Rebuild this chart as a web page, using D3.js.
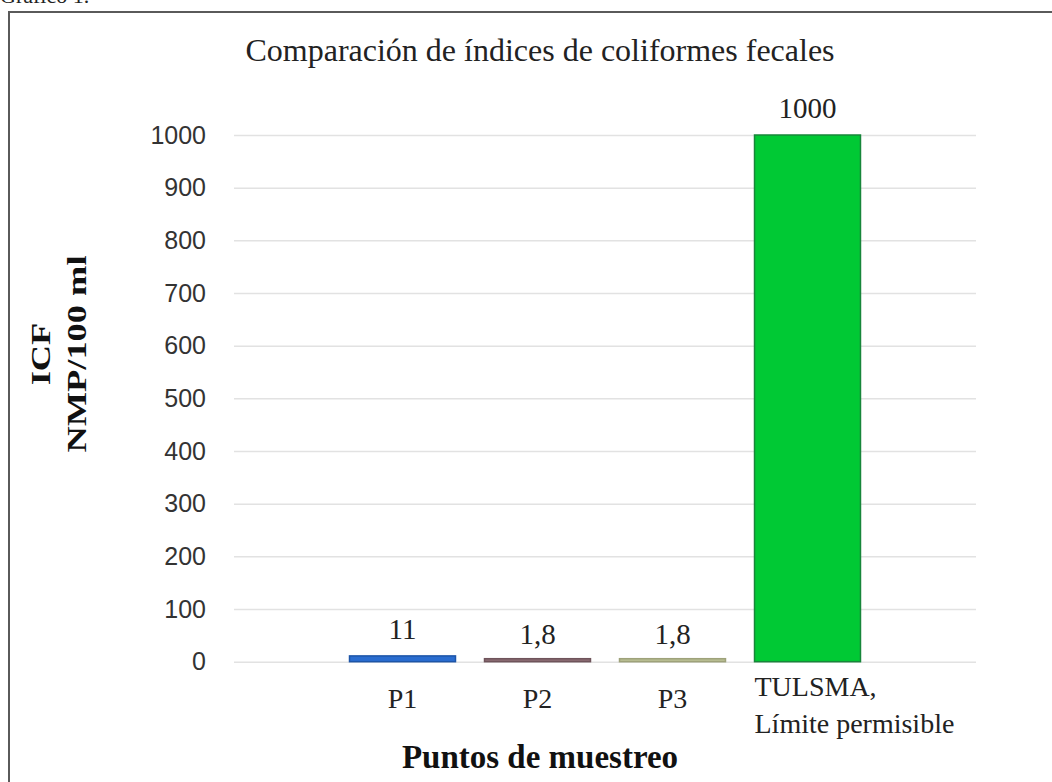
<!DOCTYPE html>
<html>
<head>
<meta charset="utf-8">
<script src="https://cdn.jsdelivr.net/npm/d3@7"></script>
<style>
  body { margin: 0; background: #fff; }
  .tick text { font-family: "Liberation Sans", Arial, sans-serif; }
</style>
</head>
<body>
<svg width="1052" height="782"></svg>
<script>
  var categories = ["P1", "P2", "P3", "TULSMA, Límite permisible"];
  var values = [11, 1.8, 1.8, 1000];
  var valueLabels = ["11", "1,8", "1,8", "1000"];
  var barColors = ["#2a6dd0", "#8a6a72", "#b8bd92", "#00c934"];
  var barStrokes = ["#1d55a8", "#6f545b", "#9ea27a", "#17863a"];
  var yTicks = [0, 100, 200, 300, 400, 500, 600, 700, 800, 900, 1000];

  var svg = d3.select("svg");
  var width = +svg.attr("width");
  var height = +svg.attr("height");

  var margin = { top: 135, right: 76, left: 234, bottom: 120 };
  var innerWidth = width - margin.left - margin.right;
  var innerHeight = height - margin.top - margin.bottom - 0.3;

  // frame
  svg.append("path")
    .attr("d", "M9,790 V12 H1060")
    .attr("fill", "none")
    .attr("stroke", "#5a5a5a")
    .attr("stroke-width", 2);

  // cut-off caption above frame
  svg.append("text")
    .text("Gráfico 1.")
    .attr("x", 0)
    .attr("y", 3)
    .attr("font-family", "Liberation Serif, serif")
    .attr("font-size", 22)
    .attr("fill", "#222");

  var g = svg.append("g")
    .attr("transform", "translate(" + margin.left + "," + margin.top + ")");

  // scales
  var yScale = d3.scaleLinear()
    .domain([0, 1000])
    .range([innerHeight, 0]);

  var xScale = d3.scaleBand()
    .domain(categories)
    .range([101, 641])
    .paddingInner(0.215)
    .paddingOuter(0.1075);

  // y axis with gridlines
  var yAxis = d3.axisLeft(yScale)
    .tickValues(yTicks)
    .tickFormat(d3.format("d"))
    .tickSize(-innerWidth)
    .tickPadding(28);

  var yAxisGroup = g.append("g").call(yAxis);
  yAxisGroup.select(".domain").remove();
  yAxisGroup.selectAll(".tick line").attr("stroke", "#e2e2e2").attr("stroke-width", 1.5);
  yAxisGroup.selectAll(".tick text")
    .attr("font-size", 25)
    .attr("fill", "#333");

  // bars
  g.selectAll("rect.bar").data(values).enter()
    .append("rect")
    .attr("class", "bar")
    .attr("x", function (d, i) { return xScale(categories[i]); })
    .attr("y", function (d) { return Math.min(yScale(d), innerHeight - 3); })
    .attr("width", xScale.bandwidth())
    .attr("height", function (d) { return Math.max(innerHeight - yScale(d), 3); })
    .attr("fill", function (d, i) { return barColors[i]; })
    .attr("stroke", function (d, i) { return barStrokes[i]; })
    .attr("stroke-width", 1.5);

  // value labels
  g.selectAll("text.val").data(values).enter()
    .append("text")
    .attr("class", "val")
    .text(function (d, i) { return valueLabels[i]; })
    .attr("x", function (d, i) { return xScale(categories[i]) + xScale.bandwidth() / 2; })
    .attr("y", function (d) { return yScale(d) - 17; })
    .attr("text-anchor", "middle")
    .attr("font-family", "Liberation Serif, serif")
    .attr("font-size", 29)
    .attr("fill", "#222");

  // category labels
  var catG = g.append("g").attr("transform", "translate(0," + innerHeight + ")");
  categories.forEach(function (c, i) {
    var parts = c.split(", ");
    if (parts.length > 1) {
      var t = catG.append("text")
        .attr("x", xScale(c))
        .attr("font-family", "Liberation Serif, serif")
        .attr("font-size", 28)
        .attr("fill", "#222");
      t.append("tspan").attr("x", xScale(c)).attr("y", 34).text(parts[0] + ",");
      t.append("tspan").attr("x", xScale(c)).attr("y", 71).text(parts[1]);
    } else {
      catG.append("text")
        .text(c)
        .attr("x", xScale(c) + xScale.bandwidth() / 2)
        .attr("y", 46)
        .attr("text-anchor", "middle")
        .attr("font-family", "Liberation Serif, serif")
        .attr("font-size", 28)
        .attr("fill", "#222");
    }
  });

  // title
  svg.append("text")
    .text("Comparación de índices de coliformes fecales")
    .attr("x", 540)
    .attr("y", 61)
    .attr("text-anchor", "middle")
    .attr("font-family", "Liberation Serif, serif")
    .attr("font-size", 32)
    .attr("fill", "#222");

  // x axis title
  svg.append("text")
    .text("Puntos de muestreo")
    .attr("x", 540)
    .attr("y", 768)
    .attr("text-anchor", "middle")
    .attr("font-family", "Liberation Serif, serif")
    .attr("font-weight", "bold")
    .attr("font-size", 33)
    .attr("fill", "#111");

  // y axis title (two lines), stretched along its length like the source
  var yTitle = svg.append("text")
    .attr("transform", "translate(0,354) rotate(-90) scale(1.3,1)")
    .attr("text-anchor", "middle")
    .attr("font-family", "Liberation Serif, serif")
    .attr("font-weight", "bold")
    .attr("font-size", 28)
    .attr("fill", "#111");
  yTitle.append("tspan").attr("x", 0).attr("y", 50).text("ICF");
  yTitle.append("tspan").attr("x", 0).attr("y", 86).text("NMP/100 ml");
</script>
</body>
</html>
